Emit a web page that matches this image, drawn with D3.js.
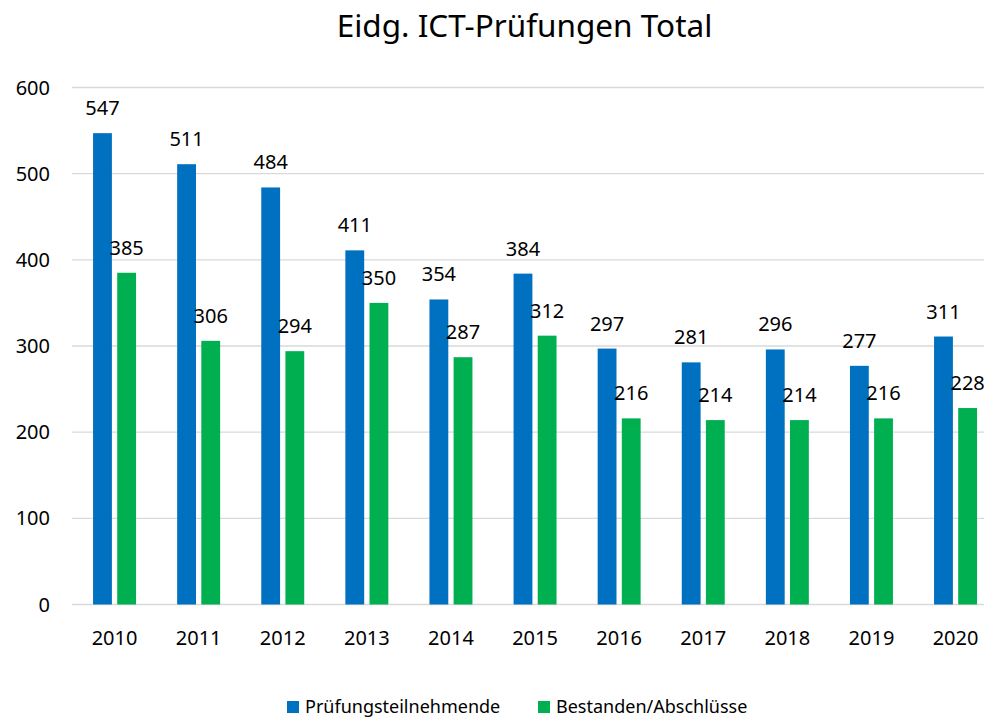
<!DOCTYPE html>
<html><head><meta charset="utf-8">
<script src="https://cdn.jsdelivr.net/npm/d3@7"></script>
<style>html,body{margin:0;padding:0;background:#fff;overflow:hidden}svg{display:block}text{font-family:"Noto Sans",sans-serif;fill:#000}</style>
</head><body><svg id="c" width="984" height="717"></svg>
<script>
const title = "Eidg. ICT-Prüfungen Total";
const years = ["2010","2011","2012","2013","2014","2015","2016","2017","2018","2019","2020"];
const seriesNames = ["Prüfungsteilnehmende","Bestanden/Abschlüsse"];
const teilnehmende = [547,511,484,411,354,384,297,281,296,277,311];
const bestanden = [385,306,294,350,287,312,216,214,214,216,228];
const colors = ["#0070C0","#00B050"];
const yTicks = [0,100,200,300,400,500,600];

const svg = d3.select("#c");
const x = d3.scaleBand().domain(years).range([72.5, 997.6]).paddingInner(0.489).paddingOuter(0.2445);
const xs = d3.scaleBand().domain([0,1]).range([0, x.bandwidth()]).paddingInner(0.22).paddingOuter(0);
const y = d3.scaleLinear().domain([0,600]).range([604.5, 87.5]);

// gridlines
svg.append("g").selectAll("line").data(yTicks).join("line")
  .attr("x1",72).attr("x2",984).attr("y1",d=>y(d)).attr("y2",d=>y(d))
  .attr("stroke","#d9d9d9").attr("stroke-width",1.3);

// y axis labels
svg.append("g").selectAll("text").data(yTicks).join("text")
  .attr("x",50).attr("y",d=>y(d)).attr("dy","0.35em").attr("text-anchor","end")
  .attr("font-size",20).text(d=>d);

const data = years.map((yr,i)=>({yr, vals:[teilnehmende[i], bestanden[i]]}));
const g = svg.append("g").selectAll("g").data(data).join("g").attr("transform",d=>`translate(${x(d.yr)},0)`);
g.selectAll("rect").data(d=>d.vals.map((v,k)=>({v,k}))).join("rect")
  .attr("x",d=>xs(d.k)).attr("width",xs.bandwidth())
  .attr("y",d=>y(d.v)).attr("height",d=>y(0)-y(d.v)).attr("fill",d=>colors[d.k]);
g.selectAll("text.lbl").data(d=>d.vals.map((v,k)=>({v,k}))).join("text").attr("class","lbl")
  .attr("x",d=>xs(d.k)+xs.bandwidth()/2).attr("y",d=>y(d.v)-18).attr("text-anchor","middle")
  .attr("font-size",20).text(d=>d.v);

// x axis labels
svg.append("g").selectAll("text").data(years).join("text")
  .attr("x",d=>x(d)+x.bandwidth()/2).attr("y",645).attr("text-anchor","middle")
  .attr("font-size",20).text(d=>d);

// title
svg.append("text").attr("x",524.5).attr("y",37).attr("text-anchor","middle").attr("font-size",31.5).text(title);

// legend
const legX = [287, 538];
const lg = svg.append("g").selectAll("g").data(seriesNames).join("g");
lg.append("rect").attr("x",(d,i)=>legX[i]).attr("y",701).attr("width",12).attr("height",12).attr("fill",(d,i)=>colors[i]);
lg.append("text").attr("x",(d,i)=>legX[i]+18).attr("y",713).attr("font-size",18).text(d=>d);
</script></body></html>
